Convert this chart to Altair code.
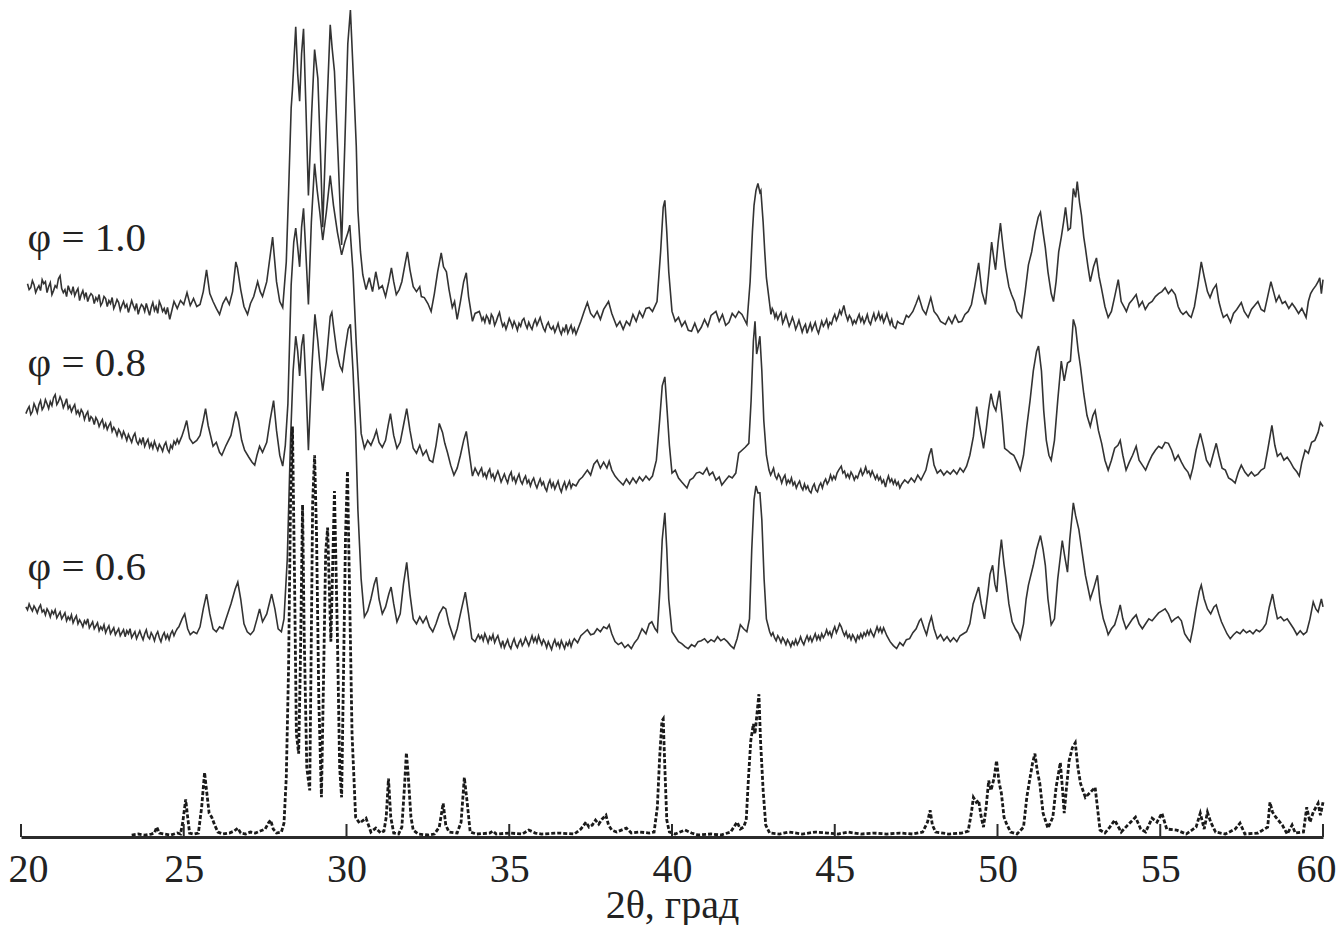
import altair as alt
import pandas as pd

# 2θ (degrees) and intensity (arbitrary units, offset stacked)
PHI_10 = [(20.2,558),(20.25,552),(20.3,554),(20.35,561),(20.4,557),(20.45,549),(20.5,553),(20.55,556),(20.6,551),(20.65,562),
(20.7,558),(20.75,560),(20.8,549),(20.85,555),(20.9,559),(20.95,547),(21.0,551),(21.05,556),(21.1,554),(21.15,563),
(21.2,566),(21.25,553),(21.3,549),(21.35,552),(21.4,545),(21.45,556),(21.5,551),(21.55,548),(21.6,555),(21.65,546),
(21.7,550),(21.75,553),(21.8,541),(21.85,547),(21.9,551),(21.95,544),(22.0,549),(22.05,540),(22.1,545),(22.15,548),
(22.2,546),(22.25,538),(22.3,544),(22.35,541),(22.4,547),(22.45,536),(22.5,539),(22.55,545),(22.6,543),(22.65,535),
(22.7,541),(22.75,538),(22.8,544),(22.85,533),(22.9,537),(22.95,542),(23.0,539),(23.05,531),(23.1,536),(23.15,540),
(23.2,534),(23.25,537),(23.3,529),(23.35,535),(23.4,541),(23.45,536),(23.5,532),(23.55,538),(23.6,527),(23.65,533),
(23.7,537),(23.75,535),(23.8,530),(23.85,538),(23.9,532),(23.95,526),(24.0,534),(24.05,539),(24.1,531),(24.15,535),
(24.2,528),(24.25,540),(24.3,536),(24.35,530),(24.4,533),(24.45,527),(24.5,534),(24.57,522),
(24.7,540),(24.8,533),(24.9,541),(25.0,537),(25.1,549),
(25.2,536),(25.3,543),(25.4,535),(25.5,537),(25.6,550),(25.7,572),(25.8,548),(25.9,540),(26.0,533),(26.1,527),
(26.2,538),(26.3,544),(26.4,537),(26.5,550),(26.6,580),(26.65,574),(26.75,552),(26.85,535),(26.96,527),(27.05,538),
(27.15,545),(27.27,560),(27.35,550),(27.42,545),(27.55,560),(27.73,605),(27.85,560),(27.95,540),(28.04,534),(28.15,580),
(28.22,650),(28.3,735),(28.34,754),(28.44,817),(28.5,770),(28.56,742),(28.62,790),(28.68,815),(28.75,740),(28.83,647),
(28.93,730),(29.02,794),(29.12,765),(29.2,690),(29.27,615),(29.38,720),(29.5,819),(29.56,795),(29.63,772),(29.75,680),
(29.85,597),(29.95,700),(30.04,800),(30.12,834),(30.22,760),(30.3,697),(30.35,632),(30.43,590),(30.5,567),(30.6,552),
(30.7,564),(30.8,550),(30.9,570),(31.0,553),(31.1,556),(31.2,545),(31.3,560),(31.38,574),(31.45,560),(31.53,547),
(31.62,552),(31.7,560),(31.8,578),(31.87,590),(31.95,572),(32.05,555),(32.15,550),(32.25,555),(32.3,545),(32.39,544),
(32.5,538),(32.6,530),(32.7,548),(32.8,570),(32.91,589),(32.98,575),(33.07,570),(33.15,552),(33.25,534),(33.32,540),
(33.4,522),(33.5,540),(33.6,560),(33.68,569),(33.75,545),(33.87,520),(33.95,528),
(34.08,530),(34.12,526),(34.16,521),(34.2,524),(34.25,519),(34.3,526),(34.35,523),(34.4,517),(34.45,527),(34.5,524),
(34.55,516),(34.6,520),(34.65,525),(34.7,529),(34.75,521),(34.8,515),(34.85,518),(34.9,512),(34.95,517),(35.0,523),
(35.05,519),(35.1,514),(35.15,520),(35.2,516),(35.25,511),(35.3,518),(35.35,515),(35.4,521),(35.45,523),(35.5,517),
(35.55,513),(35.6,519),(35.65,515),(35.7,512),(35.75,518),(35.8,522),(35.85,516),(35.9,520),(35.95,524),(36.0,518),
(36.05,513),(36.1,510),(36.15,516),(36.2,519),(36.25,514),(36.3,512),(36.35,515),(36.4,509),(36.45,513),(36.5,518),
(36.55,511),(36.6,507),(36.65,513),(36.7,510),(36.75,517),(36.8,508),(36.85,512),(36.9,516),(36.95,509),(37.0,513),
(37.05,507),(37.2,520),(37.3,530),
(37.4,539),(37.5,528),(37.6,524),(37.7,530),(37.8,522),(37.9,532),(38.05,540),(38.15,528),(38.3,515),(38.4,520),
(38.5,512),(38.6,520),(38.7,516),(38.8,527),(38.9,520),(39.0,530),(39.1,524),(39.2,533),(39.3,534),(39.4,530),
(39.54,540),(39.65,590),(39.73,635),(39.78,642),(39.84,610),(39.9,570),(40.0,530),(40.1,520),(40.2,524),(40.3,515),
(40.4,520),(40.5,511),(40.6,510),(40.7,518),(40.8,509),(40.9,514),(41.0,522),(41.1,515),(41.2,526),(41.35,530),
(41.45,520),(41.55,527),(41.65,516),(41.75,519),(41.85,528),(41.95,524),(42.05,530),(42.15,527),(42.3,517),(42.4,560),
(42.47,610),(42.52,637),(42.58,652),(42.64,659),(42.7,650),(42.73,652),(42.8,620),(42.85,590),(42.9,564),
(43.04,527),(43.08,533),(43.12,530),(43.16,524),(43.2,528),(43.25,522),(43.3,526),(43.35,529),(43.4,518),(43.45,522),
(43.5,527),(43.55,521),(43.6,515),(43.65,519),(43.7,524),(43.75,519),(43.8,512),(43.85,516),(43.9,521),(43.95,515),
(44.0,509),(44.05,514),(44.1,517),(44.15,508),(44.2,513),(44.25,518),(44.3,511),(44.35,515),(44.4,519),(44.45,512),
(44.5,508),(44.55,514),(44.6,520),(44.65,515),(44.7,518),(44.75,522),(44.8,514),(44.85,519),(44.9,517),(44.95,523),
(45.0,527),(45.05,521),(45.1,525),(45.15,531),(45.2,527),(45.28,536),(45.33,528),(45.4,521),(45.45,526),(45.5,523),
(45.55,517),(45.6,521),(45.65,518),(45.7,523),(45.75,527),(45.8,520),(45.85,524),(45.9,518),(45.95,522),(46.0,527),
(46.05,520),(46.1,517),(46.15,523),(46.2,528),(46.25,521),(46.3,524),(46.35,529),(46.4,522),(46.45,526),(46.5,519),
(46.55,523),(46.6,528),(46.65,522),(46.7,517),(46.75,522),(46.8,515),(46.87,513),(46.93,520),(47.0,518),(47.1,517),
(47.2,526),(47.27,524),(47.4,530),(47.5,538),(47.58,545),(47.7,532),(47.8,527),(47.95,544),(48.05,530),(48.15,526),
(48.25,520),(48.4,517),(48.5,524),(48.6,518),(48.7,526),(48.8,519),(48.9,520),(49.0,527),(49.1,530),(49.2,537),
(49.3,555),(49.42,579),(49.52,550),(49.63,537),(49.72,565),(49.82,600),(49.9,580),(49.94,572),(50.02,600),(50.09,619),
(50.17,595),(50.25,574),(50.35,555),(50.43,547),(50.52,540),(50.6,530),(50.74,524),(50.85,550),(50.95,577),(51.05,590),
(51.15,610),(51.25,625),(51.32,630),(51.4,610),(51.47,594),(51.55,570),(51.65,548),(51.72,540),(51.8,560),(51.88,590),
(51.96,605),(52.03,620),(52.09,635),(52.17,612),(52.24,614),(52.33,654),(52.4,645),(52.45,661),(52.52,640),(52.58,627),
(52.65,605),(52.7,594),(52.78,575),(52.85,560),(52.95,575),(53.04,584),(53.12,565),(53.19,554),(53.3,535),(53.4,524),
(53.5,530),(53.6,545),(53.71,562),(53.8,540),(53.88,535),(53.96,530),(54.05,538),(54.15,542),(54.26,547),(54.35,535),
(54.45,540),(54.54,532),(54.65,538),(54.75,540),(54.85,545),(54.95,548),(55.05,550),(55.15,554),(55.25,548),(55.35,552),
(55.46,547),(55.55,535),(55.62,530),(55.7,527),(55.8,530),(55.88,526),(55.95,524),(56.05,535),(56.15,555),(56.26,580),
(56.35,565),(56.45,550),(56.53,544),(56.62,552),(56.72,557),(56.8,540),(56.88,530),(56.94,524),(57.05,527),(57.16,519),
(57.25,528),(57.35,532),(57.49,539),(57.58,530),(57.7,524),(57.8,532),(57.9,536),(58.0,540),(58.1,532),(58.2,530),
(58.3,545),(58.4,560),(58.48,550),(58.56,540),(58.65,546),(58.75,538),(58.84,540),(58.95,533),(59.05,538),(59.14,534),
(59.25,528),(59.35,533),(59.48,524),(59.55,540),(59.62,548),(59.69,552),(59.78,556),(59.85,560),(59.9,564),(59.95,548),
(60.0,562)]

PHI_08 = [(20.15,427),(20.2,431),(20.25,434),(20.3,426),(20.35,429),(20.4,437),(20.45,433),(20.5,428),(20.55,436),(20.6,440),
(20.65,431),(20.7,434),(20.75,441),(20.8,437),(20.85,432),(20.9,439),(20.95,435),(21.0,443),(21.05,446),(21.1,436),
(21.15,439),(21.2,444),(21.25,440),(21.3,433),(21.35,437),(21.4,442),(21.45,432),(21.5,435),(21.55,429),(21.6,433),
(21.65,436),(21.7,427),(21.75,430),(21.8,425),(21.85,431),(21.9,428),(21.95,421),(22.0,426),(22.05,429),(22.1,419),
(22.15,424),(22.2,422),(22.25,416),(22.3,423),(22.35,420),(22.4,414),(22.45,418),(22.5,421),(22.55,413),(22.6,417),
(22.65,411),(22.7,415),(22.75,418),(22.8,409),(22.85,413),(22.9,410),(22.95,405),(23.0,411),(23.05,408),(23.1,403),
(23.15,409),(23.2,405),(23.25,400),(23.3,406),(23.35,402),(23.4,398),(23.45,404),(23.5,407),(23.55,399),(23.6,396),
(23.65,401),(23.7,397),(23.75,403),(23.8,394),(23.85,398),(23.9,401),(23.95,393),(24.0,397),(24.05,392),(24.1,399),
(24.15,394),(24.2,390),(24.25,396),(24.3,393),(24.35,389),(24.4,395),(24.45,398),(24.5,391),(24.55,388),(24.6,395),
(24.65,392),(24.7,399),(24.75,396),(24.8,401),(24.85,397),(24.94,404),(25.02,412),(25.09,420),
(25.18,402),(25.28,397),(25.4,400),(25.5,405),(25.6,420),(25.67,432),(25.75,415),(25.9,394),(26.0,398),(26.1,388),
(26.17,385),(26.3,395),(26.45,405),(26.6,429),(26.68,420),(26.78,400),(26.87,390),(27.0,383),(27.1,378),(27.18,375),
(27.25,385),(27.33,394),(27.42,388),(27.55,398),(27.65,420),(27.76,440),(27.85,410),(27.95,385),(28.04,374),(28.12,395),
(28.2,437),(28.3,557),(28.38,600),(28.44,614),(28.5,595),(28.56,575),(28.62,615),(28.68,634),(28.75,590),(28.83,537),
(28.92,620),(29.02,679),(29.1,652),(29.18,630),(29.27,602),(29.38,630),(29.5,667),(29.6,637),(29.72,610),(29.85,587),
(29.95,600),(30.05,610),(30.1,617),(30.2,570),(30.3,497),(30.38,450),(30.45,407),(30.55,392),(30.65,400),(30.75,395),
(30.85,403),(30.92,410),(31.0,398),(31.1,393),(31.2,400),(31.28,415),(31.35,427),(31.45,405),(31.55,392),(31.65,398),
(31.75,415),(31.85,432),(31.95,410),(32.05,392),(32.15,387),(32.25,395),(32.35,385),(32.45,390),(32.55,380),(32.65,378),
(32.75,395),(32.85,417),(32.95,408),(33.02,397),(33.1,388),(33.2,375),(33.3,365),(33.4,372),(33.5,385),(33.6,400),
(33.68,409),(33.78,385),(33.87,364),(33.95,372),
(34.05,365),(34.1,369),(34.15,372),(34.2,364),(34.25,367),(34.3,362),(34.35,368),(34.4,371),(34.45,363),(34.5,366),
(34.55,360),(34.6,365),(34.65,369),(34.7,364),(34.75,358),(34.8,362),(34.85,366),(34.9,361),(34.95,357),(35.0,364),
(35.06,368),(35.1,360),(35.15,363),(35.2,357),(35.25,362),(35.3,366),(35.35,359),(35.4,356),(35.45,361),(35.5,364),
(35.55,357),(35.6,360),(35.65,354),(35.7,359),(35.75,362),(35.8,356),(35.85,352),(35.9,357),(35.95,361),(36.0,355),
(36.05,358),(36.1,352),(36.15,349),(36.2,356),(36.25,360),(36.3,353),(36.35,357),(36.4,351),(36.45,355),(36.5,359),
(36.55,352),(36.6,348),(36.65,354),(36.7,358),(36.75,351),(36.8,355),(36.85,359),(36.9,352),(36.95,356),(37.05,354),
(37.15,360),(37.25,363),(37.4,370),(37.5,365),(37.6,376),
(37.7,380),(37.8,372),(37.9,378),(38.0,372),(38.07,379),(38.15,370),(38.25,364),(38.35,360),(38.5,355),(38.6,361),
(38.7,356),(38.8,362),(38.9,357),(39.0,363),(39.1,359),(39.2,364),(39.3,360),(39.4,364),(39.52,380),(39.62,420),
(39.7,455),(39.78,464),(39.85,430),(39.92,395),(40.0,367),(40.1,370),(40.2,362),(40.3,358),(40.46,352),(40.55,360),
(40.65,362),(40.75,367),(40.85,368),(40.95,366),(41.07,372),(41.15,365),(41.25,368),(41.35,360),(41.45,363),(41.53,355),
(41.65,360),(41.75,364),(41.85,362),(41.96,367),(42.05,387),(42.15,390),(42.25,393),(42.36,397),(42.43,440),(42.5,500),
(42.55,520),(42.6,487),(42.65,495),(42.7,505),(42.76,470),(42.82,420),(42.9,385),
(42.98,370),(43.03,365),(43.07,368),(43.12,372),(43.17,364),(43.22,361),(43.27,366),(43.32,363),(43.37,357),(43.42,362),
(43.47,365),(43.52,356),(43.57,360),(43.62,357),(43.67,362),(43.72,355),(43.77,358),(43.82,352),(43.87,356),(43.92,359),
(43.97,353),(44.02,350),(44.07,356),(44.12,351),(44.17,354),(44.22,349),(44.27,347),(44.32,353),(44.37,356),(44.42,350),
(44.47,348),(44.52,354),(44.57,357),(44.62,352),(44.67,358),(44.72,361),(44.77,356),(44.82,359),(44.87,365),(44.92,360),
(44.97,364),(45.02,361),(45.07,367),(45.12,370),(45.2,374),(45.25,367),(45.3,369),(45.35,363),(45.4,366),(45.45,362),
(45.5,368),(45.55,365),(45.6,360),(45.65,364),(45.7,362),(45.75,367),(45.8,371),(45.85,365),(45.9,368),(45.95,373),
(46.0,367),(46.05,369),(46.1,364),(46.15,369),(46.2,365),(46.25,361),(46.3,365),(46.35,360),(46.4,363),(46.45,357),
(46.5,360),(46.56,353),(46.6,359),(46.65,364),(46.7,358),(46.75,361),(46.8,356),(46.85,360),(46.9,355),(46.95,358),
(47.0,352),(47.06,356),(47.15,360),(47.25,357),
(47.35,362),(47.45,358),(47.55,365),(47.65,360),(47.8,370),(47.9,385),(47.97,392),(48.05,375),(48.15,367),(48.25,370),
(48.35,365),(48.45,369),(48.55,366),(48.65,370),(48.75,366),(48.85,372),(48.95,368),(49.05,374),(49.15,385),(49.26,404),
(49.36,434),(49.45,415),(49.57,392),(49.65,410),(49.72,430),(49.8,447),(49.88,435),(49.95,430),(50.0,440),(50.06,450),
(50.15,420),(50.22,392),(50.3,390),(50.4,387),(50.5,385),(50.6,378),(50.7,370),(50.8,385),(50.9,414),(51.0,440),
(51.1,470),(51.2,490),(51.26,495),(51.35,470),(51.42,430),(51.5,400),(51.58,385),(51.65,380),(51.75,400),(51.85,440),
(51.96,480),(52.05,460),(52.15,478),(52.24,480),(52.33,522),(52.4,514),(52.48,490),(52.55,474),(52.65,447),(52.75,425),
(52.85,414),(52.93,425),(53.0,430),(53.1,410),(53.2,397),(53.3,380),(53.4,370),(53.5,380),(53.6,392),(53.7,395),
(53.77,400),(53.85,385),(53.95,370),(54.05,378),(54.15,385),(54.26,394),(54.35,380),(54.45,375),(54.55,370),(54.65,378),
(54.75,385),(54.85,390),(54.95,394),(55.05,392),(55.15,398),(55.25,397),(55.35,390),(55.45,380),(55.55,385),(55.65,378),
(55.75,372),(55.85,368),(55.92,362),(56.0,372),(56.1,390),(56.23,407),(56.32,395),(56.42,380),(56.53,374),(56.62,385),
(56.72,397),(56.8,385),(56.9,372),(57.0,370),(57.1,362),(57.2,360),(57.3,357),(57.4,368),(57.49,375),(57.6,368),
(57.7,364),(57.8,368),(57.9,364),(58.0,366),(58.1,370),(58.2,372),(58.3,390),(58.43,415),(58.52,395),(58.6,384),
(58.7,387),(58.8,380),(58.9,383),(59.0,378),(59.1,372),(59.2,368),(59.27,364),(59.35,378),(59.45,390),(59.55,387),
(59.65,398),(59.75,400),(59.85,408),(59.92,418),(60.0,414)]

PHI_06 = [(20.15,232),(20.2,229),(20.25,235),(20.3,231),(20.35,228),(20.4,233),(20.45,230),(20.5,226),(20.55,231),(20.6,234),
(20.65,227),(20.7,229),(20.75,224),(20.8,230),(20.85,227),(20.9,222),(20.95,228),(21.0,225),(21.05,229),(21.1,221),
(21.15,224),(21.2,227),(21.25,220),(21.3,223),(21.35,226),(21.4,218),(21.45,222),(21.5,219),(21.55,224),(21.6,216),
(21.65,220),(21.7,223),(21.75,215),(21.8,219),(21.85,216),(21.9,212),(21.95,218),(22.0,215),(22.05,220),(22.1,211),
(22.15,214),(22.2,217),(22.25,210),(22.3,213),(22.35,216),(22.4,208),(22.45,212),(22.5,209),(22.55,214),(22.6,206),
(22.65,210),(22.7,213),(22.75,205),(22.8,208),(22.85,211),(22.9,204),(22.95,207),(23.0,210),(23.05,203),(23.1,206),
(23.15,209),(23.2,202),(23.25,208),(23.3,205),(23.35,210),(23.4,201),(23.45,204),(23.5,207),(23.55,200),(23.6,204),
(23.65,208),(23.7,203),(23.75,199),(23.8,205),(23.85,209),(23.9,202),(23.95,200),(24.0,206),(24.05,203),(24.1,198),
(24.15,204),(24.2,207),(24.25,201),(24.3,197),(24.35,203),(24.4,206),(24.45,200),(24.5,204),(24.55,199),(24.6,205),
(24.65,208),(24.7,203),(24.75,207),(24.8,210),(24.85,212),(24.95,220),(25.03,225),
(25.12,210),(25.2,204),(25.3,207),(25.4,205),(25.5,212),(25.6,230),(25.7,245),(25.8,225),(25.9,210),(26.0,207),
(26.1,212),(26.2,210),(26.3,220),(26.45,235),(26.58,250),(26.66,257),(26.75,240),(26.85,215),(26.95,207),(27.05,204),
(27.15,208),(27.25,220),(27.33,230),(27.42,217),(27.55,225),(27.7,245),(27.8,230),(27.9,210),(28.0,207),(28.08,220),
(28.18,280),(28.28,400),(28.36,470),(28.44,505),(28.5,490),(28.56,465),(28.62,495),(28.68,507),(28.75,460),(28.83,390),
(28.93,470),(29.03,527),(29.12,500),(29.2,470),(29.27,450),(29.38,480),(29.5,525),(29.55,529),(29.62,510),(29.7,490),
(29.8,475),(29.87,470),(29.95,490),(30.05,512),(30.12,517),(30.2,470),(30.28,410),(30.35,330),(30.45,260),(30.55,222),
(30.65,228),(30.75,240),(30.85,255),(30.92,262),(31.0,240),(31.1,225),(31.2,232),(31.3,245),(31.37,252),(31.45,235),
(31.55,217),(31.65,225),(31.75,255),(31.85,277),(31.95,245),(32.05,220),(32.15,215),(32.25,222),(32.35,216),(32.45,222),
(32.55,212),(32.65,207),(32.75,215),(32.85,225),(32.97,232),(33.05,230),(33.15,215),(33.3,200),(33.4,210),(33.5,225),
(33.65,247),(33.75,225),(33.85,200),(33.95,197),
(34.05,204),(34.1,200),(34.15,203),(34.2,198),(34.25,205),(34.3,201),(34.35,196),(34.4,202),(34.45,199),(34.5,204),
(34.55,196),(34.6,200),(34.65,203),(34.7,197),(34.75,192),(34.8,198),(34.85,191),(34.9,195),(34.95,199),(35.0,193),
(35.05,190),(35.1,196),(35.15,200),(35.2,194),(35.25,191),(35.3,196),(35.35,199),(35.4,193),(35.45,196),(35.5,201),
(35.55,197),(35.6,193),(35.65,198),(35.7,203),(35.75,197),(35.8,201),(35.85,196),(35.9,203),(35.95,198),(36.0,194),
(36.05,199),(36.1,196),(36.15,191),(36.2,197),(36.25,193),(36.3,189),(36.35,195),(36.4,199),(36.45,193),(36.5,196),
(36.55,191),(36.6,198),(36.65,194),(36.7,190),(36.75,196),(36.8,193),(36.85,198),(36.9,192),(36.95,197),(37.0,200),
(37.1,196),(37.2,203),(37.3,206),(37.4,209),(37.5,204),(37.6,205),
(37.7,210),(37.8,207),(37.9,212),(38.0,210),(38.07,214),(38.15,205),(38.25,197),(38.35,194),(38.45,196),(38.55,191),
(38.65,194),(38.75,190),(38.85,196),(38.95,200),(39.08,210),(39.2,205),(39.3,215),(39.38,217),(39.48,210),(39.55,207),
(39.63,250),(39.7,300),(39.78,327),(39.84,290),(39.9,240),(40.0,207),(40.1,202),(40.2,197),(40.3,195),(40.4,192),
(40.5,190),(40.6,194),(40.7,192),(40.8,197),(40.9,198),(41.0,200),(41.1,196),(41.2,199),(41.3,197),(41.4,202),
(41.5,198),(41.6,200),(41.7,197),(41.8,193),(41.9,190),(42.0,200),(42.1,214),(42.2,210),(42.3,207),(42.38,220),
(42.45,290),(42.52,340),(42.58,354),(42.64,347),(42.7,347),(42.76,320),(42.83,260),(42.9,220),
(43.0,207),(43.05,203),(43.1,206),(43.15,201),(43.2,198),(43.25,203),(43.3,200),(43.35,196),(43.4,201),(43.45,198),
(43.5,194),(43.55,199),(43.6,196),(43.65,192),(43.7,197),(43.75,194),(43.8,199),(43.85,194),(43.9,197),(43.95,202),
(44.0,197),(44.05,194),(44.1,199),(44.15,203),(44.2,198),(44.25,202),(44.3,197),(44.35,201),(44.4,205),(44.45,199),
(44.5,203),(44.55,199),(44.6,205),(44.65,201),(44.7,204),(44.75,209),(44.8,204),(44.85,207),(44.9,202),(44.95,208),
(45.0,212),(45.05,206),(45.1,210),(45.15,215),(45.2,212),(45.25,207),(45.3,203),(45.35,207),(45.4,201),(45.45,204),
(45.5,199),(45.55,204),(45.6,201),(45.65,197),(45.7,203),(45.75,200),(45.8,205),(45.85,201),(45.9,206),(45.95,203),
(46.0,208),(46.05,204),(46.1,209),(46.15,205),(46.2,202),(46.25,207),(46.3,212),(46.35,207),(46.4,211),(46.45,206),
(46.5,211),(46.55,207),(46.6,203),(46.7,197),(46.8,193),(46.9,190),(47.0,196),(47.1,193),
(47.2,199),(47.3,200),(47.4,206),(47.5,210),(47.6,218),(47.65,220),(47.75,210),(47.82,204),(47.9,215),(47.97,222),
(48.05,210),(48.15,200),(48.25,204),(48.35,198),(48.45,202),(48.55,197),(48.65,201),(48.75,197),(48.85,203),(48.95,205),
(49.05,207),(49.15,215),(49.25,235),(49.35,245),(49.42,252),(49.5,235),(49.6,220),(49.7,245),(49.77,265),(49.85,274),
(49.92,255),(49.98,247),(50.05,280),(50.12,300),(50.2,275),(50.26,260),(50.35,235),(50.45,217),(50.55,210),(50.65,205),
(50.7,200),(50.8,215),(50.88,240),(50.95,254),(51.1,274),(51.2,290),(51.32,304),(51.4,290),(51.47,274),(51.55,240),
(51.65,214),(51.75,220),(51.85,260),(51.99,299),(52.06,284),(52.15,267),(52.22,300),(52.33,337),(52.4,324),(52.5,310),
(52.6,287),(52.7,264),(52.85,240),(52.95,250),(53.07,264),(53.15,237),(53.25,220),(53.35,210),(53.4,204),(53.5,210),
(53.6,214),(53.7,225),(53.77,234),(53.85,220),(53.95,210),(54.05,215),(54.15,220),(54.26,224),(54.35,215),(54.45,210),
(54.55,215),(54.65,220),(54.75,218),(54.85,222),(54.95,226),(55.05,228),(55.15,230),(55.25,225),(55.35,217),(55.45,220),
(55.55,222),(55.65,218),(55.75,205),(55.85,200),(55.92,197),(56.0,210),(56.1,230),(56.2,248),(56.26,254),(56.35,240),
(56.45,230),(56.55,225),(56.65,232),(56.72,234),(56.8,225),(56.88,217),(56.95,212),(57.05,205),(57.15,200),(57.25,204),
(57.35,207),(57.45,205),(57.55,209),(57.65,206),(57.75,208),(57.85,205),(57.95,209),(58.05,207),(58.15,210),(58.25,215),
(58.35,232),(58.45,245),(58.52,232),(58.6,220),(58.7,222),(58.8,218),(58.9,220),(59.0,215),(59.1,210),(59.2,204),
(59.3,208),(59.4,204),(59.5,207),(59.6,220),(59.7,237),(59.78,230),(59.85,227),(59.95,240),(60.0,232)]

REFERENCE = [(23.4,2),(23.6,3),(23.8,2),(24.0,3),(24.1,4),(24.17,10),(24.25,4),(24.4,3),(24.6,2),(24.8,4),
(24.9,3),(24.97,15),(25.06,38),(25.12,20),(25.18,4),(25.3,3),(25.45,4),(25.55,30),(25.64,65),(25.7,47),
(25.78,24),(25.86,20),(25.95,12),(26.05,5),(26.2,3),(26.4,4),(26.55,6),(26.66,9),(26.75,4),(26.9,3),
(27.05,5),(27.2,4),(27.35,6),(27.5,8),(27.6,14),(27.67,17),(27.75,8),(27.85,4),(28.0,5),(28.08,14),
(28.15,60),(28.22,170),(28.28,337),(28.34,414),(28.4,270),(28.46,104),(28.53,84),(28.58,170),(28.65,335),(28.7,204),
(28.78,70),(28.87,47),(28.92,204),(28.96,337),(29.02,385),(29.08,304),(29.15,137),(29.23,40),(29.3,170),(29.36,287),
(29.42,312),(29.52,197),(29.63,349),(29.72,204),(29.79,70),(29.85,40),(29.91,170),(29.97,304),(30.03,369),(30.1,237),
(30.17,104),(30.28,20),(30.4,14),(30.6,19),(30.75,5),(30.9,9),(31.05,4),(31.15,6),(31.22,20),(31.29,59),
(31.36,20),(31.45,4),(31.6,3),(31.7,10),(31.78,50),(31.84,85),(31.9,60),(31.98,20),(32.05,7),(32.2,3),
(32.5,2),(32.7,3),(32.85,10),(32.97,34),(33.05,12),(33.15,5),(33.4,4),(33.52,15),(33.62,60),(33.7,37),
(33.8,5),(34.0,3),(34.4,4),(34.5,6),(34.6,3),(35.0,4),(35.4,3),(35.6,7),(35.8,4),(36.0,3),
(36.5,4),(37.0,3),(37.2,8),(37.36,15),(37.45,10),(37.55,12),(37.65,17),(37.75,13),(37.85,18),(37.97,22),
(38.05,12),(38.15,7),(38.3,5),(38.6,9),(38.75,4),(39.0,5),(39.3,4),(39.45,5),(39.55,30),(39.62,80),
(39.69,117),(39.73,119),(39.78,70),(39.84,17),(39.92,5),(40.1,3),(40.4,7),(40.6,4),(40.8,2),(41.2,3),
(41.5,2),(41.8,5),(42.0,15),(42.1,8),(42.2,10),(42.28,17),(42.35,60),(42.42,97),(42.5,114),(42.55,104),
(42.67,144),(42.72,97),(42.8,47),(42.88,12),(43.0,4),(43.3,3),(43.6,5),(44.0,3),(44.4,5),(44.8,4),
(45.1,3),(45.4,5),(45.8,3),(46.2,4),(46.6,3),(47.0,4),(47.4,3),(47.7,5),(47.85,15),(47.93,27),
(48.0,12),(48.1,5),(48.5,3),(48.9,4),(49.1,6),(49.2,25),(49.26,40),(49.35,35),(49.42,37),(49.5,20),
(49.57,10),(49.65,30),(49.73,57),(49.8,47),(49.9,60),(49.97,77),(50.05,55),(50.12,44),(50.2,20),(50.27,14),
(50.4,5),(50.6,3),(50.8,10),(50.9,40),(51.0,60),(51.08,75),(51.15,84),(51.22,67),(51.3,54),(51.4,24),
(51.55,9),(51.7,20),(51.8,50),(51.93,75),(52.0,47),(52.05,24),(52.12,50),(52.2,77),(52.3,90),(52.39,95),
(52.47,70),(52.55,54),(52.7,40),(52.85,45),(53.0,50),(53.08,27),(53.15,7),(53.3,4),(53.45,10),(53.6,17),
(53.8,5),(54.0,12),(54.24,20),(54.4,8),(54.55,5),(54.75,19),(54.9,15),(55.05,24),(55.2,8),(55.5,7),
(55.8,3),(56.1,10),(56.23,24),(56.35,8),(56.45,25),(56.55,15),(56.7,5),(57.0,3),(57.3,8),(57.45,14),
(57.6,3),(58.0,4),(58.3,10),(58.37,35),(58.45,25),(58.55,20),(58.75,12),(58.9,3),(59.05,12),(59.15,4),
(59.4,5),(59.5,30),(59.6,15),(59.7,25),(59.85,34),(59.92,22),(60.0,35)]

TICK_VALUES = [20, 25, 30, 35, 40, 45, 50, 55, 60]
CURVE_LABELS = ["φ = 1.0", "φ = 0.8", "φ = 0.6"]
LABEL_X = [20.2, 20.2, 20.2]
LABEL_Y = [591, 465, 259]

rows = []
for name, pts in [("1.0", PHI_10), ("0.8", PHI_08), ("0.6", PHI_06)]:
    for x, y in pts:
        rows.append({"curve": name, "x": x, "y": y})
solid = pd.DataFrame(rows)
dash = pd.DataFrame([{"x": x, "y": y} for x, y in REFERENCE])
ticks = pd.DataFrame({"x": TICK_VALUES})
labels = pd.DataFrame({"x": LABEL_X, "y": LABEL_Y, "text": CURVE_LABELS})

FONT = "Liberation Serif"
xscale = alt.Scale(domain=[20, 60], nice=False, zero=False)
yscale = alt.Scale(domain=[0, 836], nice=False, zero=True)
xaxis = alt.Axis(
    values=TICK_VALUES, ticks=False, tickSize=0, grid=False,
    domainColor="#2b2b2b", domainWidth=3,
    labelFont=FONT, labelFontSize=40, labelColor="#222", labelPadding=12,
    labelAlign={"condition": [{"test": "datum.value == 20", "value": "left"},
                              {"test": "datum.value == 60", "value": "right"}], "value": "center"},
    labelOffset={"condition": [{"test": "datum.value == 20", "value": -13},
                               {"test": "datum.value == 60", "value": 13}], "value": 0},
    title="2θ, град", titleFont=FONT, titleFontSize=40, titleFontWeight="normal",
    titleColor="#222", titleBaseline="alphabetic", titleY=80,
)

X = alt.X("x:Q", scale=xscale, axis=xaxis)
Y = alt.Y("y:Q", scale=yscale, axis=None)

lines = alt.Chart(solid).mark_line(color="#333333", strokeWidth=1.6).encode(
    x=X, y=Y, detail="curve:N")
ref = alt.Chart(dash).mark_line(color="#1a1a1a", strokeWidth=2.8, strokeDash=[4, 2]).encode(x=X, y=Y)
tick_marks = alt.Chart(ticks).mark_rule(color="#2b2b2b", strokeWidth=2).encode(
    x=X, y=alt.value(816), y2=alt.value(829))
text = alt.Chart(labels).mark_text(align="left", baseline="alphabetic", font=FONT,
                                   fontSize=41, color="#222").encode(x=X, y=Y, text="text:N")

chart = alt.layer(lines, ref, tick_marks, text).properties(
    width=1302, height=829,
    autosize=alt.AutoSizeParams(type="none"),
    padding={"left": 13, "right": 13, "top": 0, "bottom": 88},
    background="white",
).configure_view(strokeWidth=0)

chart.save("out.html", embed_options={"renderer": "svg", "actions": False})
